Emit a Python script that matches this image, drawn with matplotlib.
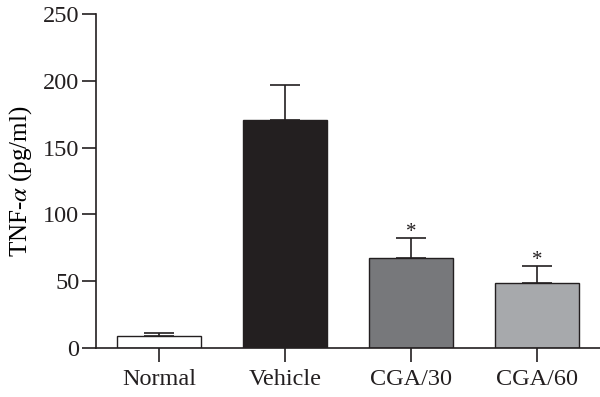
import numpy as np
import matplotlib
matplotlib.use("Agg")
import matplotlib.pyplot as plt

groups = ["Normal", "Vehicle", "CGA/30", "CGA/60"]
means = [9, 170.5, 67, 48.5]
sems = [2.2, 26.5, 15.3, 12.8]
significant = [False, False, True, True]
bar_colors = ["#ffffff", "#231f20", "#77787b", "#a7a9ac"]

plt.rcParams["font.family"] = ["Liberation Serif", "DejaVu Serif"]
plt.rcParams["mathtext.fontset"] = "stix"

fig = plt.figure(figsize=(6.0, 3.97), dpi=100)
ax = fig.add_axes([0.16, 0.1234, 0.84, 0.8413])

x = np.arange(len(groups))
ax.bar(x, means, width=0.67, color=bar_colors, edgecolor="#231f20", linewidth=1.0, zorder=2)
ax.errorbar(x, means, yerr=[np.zeros(len(sems)), sems], fmt="none", ecolor="#231f20",
            elinewidth=1.2, capsize=11, capthick=1.2, zorder=1)

for xi, m, s, sig in zip(x, means, sems, significant):
    if sig:
        ax.text(xi, m + s - 3, "*", ha="center", va="bottom", fontsize=15, color="#231f20")

ax.set_xlim(-0.5, 3.5)
ax.set_ylim(0, 250)
ax.set_yticks([0, 50, 100, 150, 200, 250])
ax.set_xticks(x)
ax.set_xticklabels(groups)
ax.set_ylabel("TNF-$\\alpha$ (pg/ml)", fontsize=18, labelpad=6)

for side in ["top", "right"]:
    ax.spines[side].set_visible(False)
for side in ["left", "bottom"]:
    ax.spines[side].set_color("#231f20")
    ax.spines[side].set_linewidth(1.2)
ax.tick_params(axis="both", direction="out", length=10, width=1.2, color="#231f20",
               labelsize=17.5, labelcolor="#231f20")
ax.tick_params(axis="y", pad=2)
ax.tick_params(axis="x", pad=5)

fig.savefig("out.png", dpi=100)
